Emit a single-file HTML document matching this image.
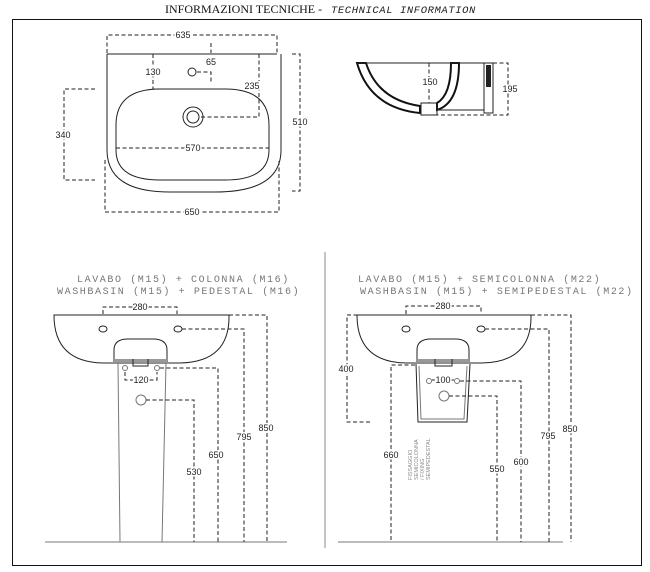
<!DOCTYPE html>
<html><head><meta charset="utf-8"><style>
html,body{margin:0;padding:0;background:#fff;}
svg{display:block;}
.d{fill:none;stroke:#222;stroke-width:1;stroke-dasharray:4 2.5;}
.s{fill:none;stroke:#222;stroke-width:1;}
.g{fill:none;stroke:#777;stroke-width:1;}
text{font-family:"Liberation Sans",sans-serif;font-size:9px;fill:#222;stroke:#fff;stroke-width:3px;paint-order:stroke;}
.t{font-family:"Liberation Mono",monospace;font-size:10px;fill:#777;letter-spacing:1.6px;stroke:none;}
</style></head><body>
<svg width="650" height="572" viewBox="0 0 650 572">
<text x="165" y="13" style="font-family:'Liberation Serif',serif;font-size:12px;fill:#111;stroke:none">INFORMAZIONI TECNICHE -</text>
<text x="331" y="13" style="font-family:'Liberation Mono',monospace;font-size:10.5px;font-style:italic;fill:#222;stroke:none;letter-spacing:0.6px">TECHNICAL INFORMATION</text>
<rect x="12.5" y="19.5" width="629" height="546" fill="none" stroke="#111" stroke-width="1"/>

<!-- TOP PLAN -->
<path class="d" d="M107 53V35H277V53"/>
<text x="183" y="38" text-anchor="middle">635</text>
<line class="s" x1="107" y1="54" x2="277" y2="54"/>
<path class="s" d="M107 54V150Q107 192 170 192H215Q281 192 281 150V54"/>
<path class="s" d="M116 125Q116 89 160 89H225Q269 89 269 125V150Q269 180 225 180H160Q116 180 116 150Z"/>
<path class="d" d="M116 148H269"/>
<text x="193" y="151" text-anchor="middle">570</text>
<circle class="s" cx="192" cy="72" r="4"/>
<circle class="s" cx="193" cy="117" r="10"/>
<circle class="s" cx="193" cy="117" r="6"/>
<path class="d" d="M211 43V53M197 72H211V82"/>
<text x="211" y="65" text-anchor="middle">65</text>
<path class="d" d="M153 54V89H178"/>
<text x="153" y="75" text-anchor="middle">130</text>
<path class="d" d="M259 54V117H199"/>
<text x="252" y="89" text-anchor="middle">235</text>
<path class="d" d="M292 54H300V191H292"/>
<text x="300" y="125" text-anchor="middle">510</text>
<path class="d" d="M95 89H64V180H95"/>
<text x="63" y="138" text-anchor="middle">340</text>
<path class="d" d="M105 160V212H279V160"/>
<text x="192" y="215" text-anchor="middle">650</text>

<!-- SIDE VIEW -->
<path d="M357 63H366Q378 100 420 106V113Q370 108 357 63Z" fill="#fff" stroke="#111" stroke-width="2"/>
<path d="M451 63H459Q459 103 437 110V103Q451 95 451 63Z" fill="#fff" stroke="#111" stroke-width="2"/>
<line class="s" x1="357" y1="63" x2="493" y2="63"/>
<rect class="s" x="421" y="103" width="16" height="12" fill="#fff"/>
<path class="s" d="M437 110H484"/>
<rect class="s" x="484" y="63" width="9" height="50"/>
<rect x="486" y="65" width="5" height="22" fill="#222"/>
<path class="d" d="M429 63V103M493 63H508V115H437"/>
<text x="430" y="85" text-anchor="middle">150</text>
<text x="510" y="92" text-anchor="middle">195</text>

<line x1="325" y1="252" x2="325" y2="548" stroke="#888" stroke-width="1"/>

<!-- LEFT ELEVATION -->
<text class="t" x="77" y="282">LAVABO (M15) + COLONNA (M16)</text>
<text class="t" x="57" y="294">WASHBASIN (M15) + PEDESTAL (M16)</text>
<path class="d" d="M103 314V307H177V314"/>
<text x="140" y="310" text-anchor="middle">280</text>
<path class="s" d="M54 315H229Q230 362 180 363H103Q54 362 54 315Z"/>
<ellipse class="s" cx="103" cy="329" rx="4" ry="3"/>
<ellipse class="s" cx="178" cy="329" rx="4" ry="3"/>
<path class="s" d="M114 362V350Q114 339 128 339H153Q167 339 167 350V362"/>
<rect x="114" y="359" width="53" height="3" fill="#999"/>
<path class="s" d="M133 359V366H148V359"/>
<path class="g" d="M118 363L120 542M166 363L162 542"/>
<circle class="g" cx="125" cy="368" r="2.5"/><circle class="g" cx="157" cy="368" r="2.5"/>
<path class="d" d="M125 372V380H157V372"/>
<text x="141" y="383" text-anchor="middle">120</text>
<circle class="g" cx="141" cy="400" r="5"/>
<line class="g" x1="45" y1="542" x2="287" y2="542"/>
<path class="d" d="M146 400H194V542"/>
<path class="d" d="M160 368H218V542"/>
<path class="d" d="M182 329H244V542"/>
<path class="d" d="M229 315H267V542"/>
<text x="194" y="475" text-anchor="middle">530</text>
<text x="216" y="458" text-anchor="middle">650</text>
<text x="244" y="440" text-anchor="middle">795</text>
<text x="266" y="431" text-anchor="middle">850</text>

<!-- RIGHT ELEVATION -->
<text class="t" x="358" y="282">LAVABO (M15) + SEMICOLONNA (M22)</text>
<text class="t" x="360" y="294">WASHBASIN (M15) + SEMIPEDESTAL (M22)</text>
<path class="d" d="M406 314V306H481V314"/>
<text x="443" y="309" text-anchor="middle">280</text>
<path class="s" d="M357 315H531Q532 362 482 363H406Q357 362 357 315Z"/>
<ellipse class="s" cx="406" cy="329" rx="4" ry="3"/>
<ellipse class="s" cx="481" cy="329" rx="4" ry="3"/>
<path class="s" d="M417 362V350Q417 339 431 339H455Q469 339 469 350V362"/>
<rect x="417" y="359" width="52" height="3" fill="#999"/>
<path class="s" d="M435 359V366H452V359"/>
<path class="s" d="M416 364L418 422H467L470 364"/>
<path class="g" d="M419 366L421 419H464L467 366"/>
<circle class="g" cx="429" cy="381" r="2.5"/><circle class="g" cx="457" cy="381" r="2.5"/>
<path class="d" d="M432 380H454"/>
<text x="443" y="383" text-anchor="middle">100</text>
<circle class="g" cx="444" cy="396" r="5"/>
<path class="d" d="M370 422H347V315H357"/>
<text x="346" y="372" text-anchor="middle">400</text>
<path class="d" d="M415 365H391V542"/>
<text x="391" y="458" text-anchor="middle">660</text>
<text transform="translate(412,480) rotate(-90)" style="font-size:5.5px;fill:#888;stroke:none">FISSAGGIO</text>
<text transform="translate(418,480) rotate(-90)" style="font-size:5.5px;fill:#888;stroke:none">SEMICOLONNA</text>
<text transform="translate(424,480) rotate(-90)" style="font-size:5.5px;fill:#888;stroke:none">/ FIXING</text>
<text transform="translate(430,480) rotate(-90)" style="font-size:5.5px;fill:#888;stroke:none">SEMIPEDESTAL</text>
<line class="g" x1="338" y1="542" x2="563" y2="542"/>
<path class="d" d="M449 396H497V542"/>
<path class="d" d="M460 381H521V542"/>
<path class="d" d="M485 329H549V542"/>
<path class="d" d="M531 315H571V542"/>
<text x="497" y="472" text-anchor="middle">550</text>
<text x="521" y="465" text-anchor="middle">600</text>
<text x="548" y="439" text-anchor="middle">795</text>
<text x="570" y="432" text-anchor="middle">850</text>
</svg>
</body></html>
